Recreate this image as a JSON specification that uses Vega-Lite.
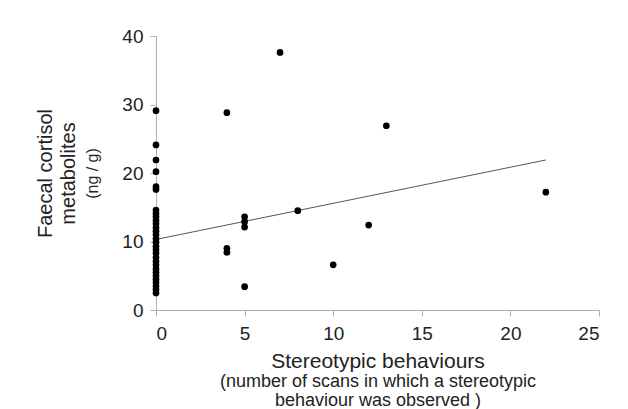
{
  "$schema": "https://vega.github.io/schema/vega-lite/v6.json",
  "width": 443,
  "height": 274,
  "autosize": "none",
  "padding": {"left": 156, "top": 36, "right": 29, "bottom": 99},
  "background": "white",
  "config": {
    "view": {"stroke": null},
    "font": "Liberation Sans",
    "axis": {
      "domainColor": "#b0b0b0",
      "tickColor": "#b0b0b0",
      "grid": false,
      "labelFont": "Liberation Sans",
      "labelFontSize": 19,
      "labelColor": "#222",
      "titleFont": "Liberation Sans",
      "titleFontWeight": "normal",
      "titleColor": "#222",
      "tickSize": 6
    }
  },
  "datasets": {
    "pts": [
      {"x": 0, "y": 29.1}, {"x": 0, "y": 24.1}, {"x": 0, "y": 21.9}, {"x": 0, "y": 20.2},
      {"x": 0, "y": 18.0}, {"x": 0, "y": 17.6},
      {"x": 0, "y": 14.6}, {"x": 0, "y": 14.1}, {"x": 0, "y": 13.6}, {"x": 0, "y": 13.1},
      {"x": 0, "y": 12.6}, {"x": 0, "y": 12.0}, {"x": 0, "y": 11.5}, {"x": 0, "y": 11.0},
      {"x": 0, "y": 10.4}, {"x": 0, "y": 9.9}, {"x": 0, "y": 9.3}, {"x": 0, "y": 8.8},
      {"x": 0, "y": 8.3}, {"x": 0, "y": 7.7}, {"x": 0, "y": 7.1}, {"x": 0, "y": 6.6},
      {"x": 0, "y": 6.0}, {"x": 0, "y": 5.5}, {"x": 0, "y": 5.0}, {"x": 0, "y": 4.5},
      {"x": 0, "y": 4.0}, {"x": 0, "y": 3.5}, {"x": 0, "y": 3.0}, {"x": 0, "y": 2.5},
      {"x": 4, "y": 28.8}, {"x": 7, "y": 37.6}, {"x": 13, "y": 26.9}, {"x": 22, "y": 17.2},
      {"x": 12, "y": 12.4}, {"x": 8, "y": 14.5},
      {"x": 5, "y": 13.6}, {"x": 5, "y": 12.9}, {"x": 5, "y": 12.1},
      {"x": 4, "y": 9.0}, {"x": 4, "y": 8.4},
      {"x": 10, "y": 6.6}, {"x": 5, "y": 3.4}
    ],
    "fit": [
      {"x": 0, "y": 10.3},
      {"x": 22, "y": 21.9}
    ]
  },
  "layer": [
    {
      "data": {"name": "fit"},
      "mark": {"type": "line", "color": "#555", "strokeWidth": 1},
      "encoding": {
        "x": {
          "field": "x", "type": "quantitative",
          "scale": {"domain": [0, 25], "nice": false},
          "axis": {
            "orient": "bottom",
            "labels": false, "ticks": false, "domain": false,
            "title": ["(number of scans in which a stereotypic", "behaviour was observed )"],
            "titleFontSize": 18, "titleY": 71, "titleBaseline": "middle", "titleLineHeight": 19
          }
        },
        "y": {
          "field": "y", "type": "quantitative",
          "scale": {"domain": [0, 40], "nice": false},
          "axis": {
            "orient": "left",
            "labels": false, "ticks": false, "domain": false,
            "title": "(ng / g)",
            "titleFontSize": 16, "titleX": -64, "titleY": 137, "titleAngle": -90, "titleBaseline": "middle"
          }
        }
      }
    },
    {
      "data": {"name": "pts"},
      "mark": {"type": "circle", "color": "black", "opacity": 1, "size": 45},
      "encoding": {
        "x": {
          "field": "x", "type": "quantitative",
          "scale": {"domain": [0, 25], "nice": false},
          "axis": {
            "orient": "bottom",
            "values": [0, 5, 10, 15, 20, 25], "labelPadding": 8,
            "title": "Stereotypic behaviours", "titleFontSize": 21,
            "titleY": 51, "titleBaseline": "middle"
          }
        },
        "y": {
          "field": "y", "type": "quantitative",
          "scale": {"domain": [0, 40], "nice": false},
          "axis": {
            "orient": "left",
            "values": [0, 10, 20, 30, 40], "labelPadding": 7,
            "title": ["Faecal cortisol", "metabolites"], "titleFontSize": 20,
            "titleX": -111, "titleY": 137, "titleAngle": -90, "titleBaseline": "middle", "titleLineHeight": 23
          }
        }
      }
    }
  ],
  "resolve": {"axis": {"x": "independent", "y": "independent"}}
}
